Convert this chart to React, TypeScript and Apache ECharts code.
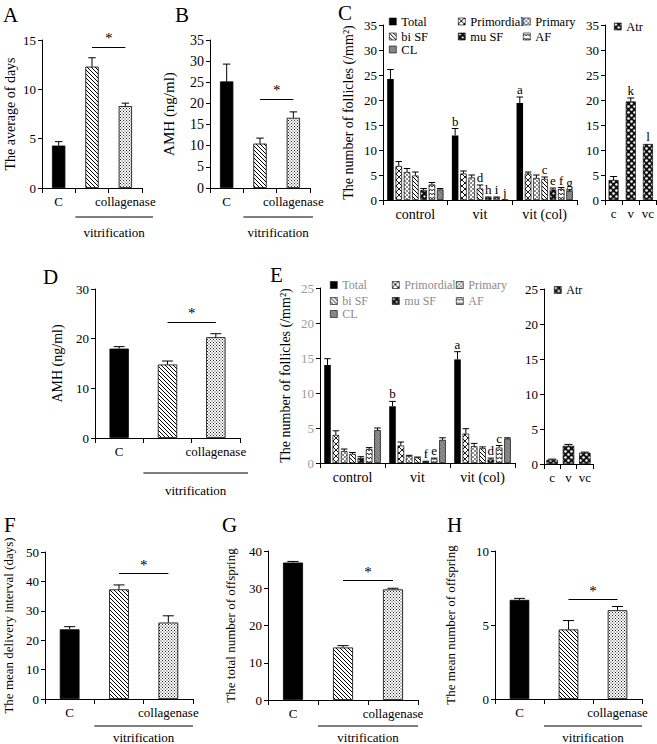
import React, { useEffect, useRef } from 'react';
import * as echarts from 'echarts';

// ---------------- data ----------------
const TREATMENT_LABELS = ['C', '', 'collagenase'];
const BRACKET_LABEL = 'vitrification';

const A_VALUES = [4.3, 12.3, 8.3];
const A_ERRORS = [0.4, 0.9, 0.3];
const A_SIG = 14.3;

const B_VALUES = [25.2, 10.5, 16.6];
const B_ERRORS = [4.1, 1.3, 1.4];
const B_SIG = 21.1;

const D_VALUES = [18.0, 14.8, 20.3];
const D_ERRORS = [0.4, 0.7, 0.7];
const D_SIG = 23.4;

const F_VALUES = [23.7, 37.3, 26.0];
const F_ERRORS = [0.9, 1.5, 2.3];
const F_SIG = 42.8;

const G_VALUES = [36.9, 14.1, 29.7];
const G_ERRORS = [0.3, 0.5, 0.3];
const G_SIG = 32.2;

const H_VALUES = [6.7, 4.7, 6.0];
const H_ERRORS = [0.1, 0.6, 0.25];
const H_SIG = 6.75;

const FOLLICLE_GROUPS = ['control', 'vit', 'vit (col)'];
const FOLLICLE_TYPES = ['Total', 'Primordial', 'Primary', 'bi SF', 'mu SF', 'AF', 'CL'];
const ATR_GROUPS = ['c', 'v', 'vc'];
const ATR_NAME = 'Atr';

// Panel C (values per follicle type across control / vit / vit (col))
const C_TOTAL = [24.2, 12.9, 19.4];
const C_TOTAL_ERR = [1.9, 1.4, 1.2];
const C_PRIMORDIAL = [6.8, 5.3, 5.3];
const C_PRIMORDIAL_ERR = [0.9, 0.5, 0.3];
const C_PRIMARY = [5.6, 4.5, 4.4];
const C_PRIMARY_ERR = [0.7, 0.5, 0.6];
const C_BISF = [4.9, 2.3, 4.2];
const C_BISF_ERR = [0.7, 0.7, 0.4];
const C_MUSF = [2.0, 0.5, 2.1];
const C_MUSF_ERR = [0.3, 0.1, 0.3];
const C_AF = [3.1, 0.5, 2.2];
const C_AF_ERR = [0.4, 0.1, 0.3];
const C_CL = [2.1, 0.05, 1.8];
const C_CL_ERR = [0.2, 0, 0.2];
const C_TOTAL_LETTERS = ['', 'b', 'a'];
const C_BISF_LETTERS = ['', 'd', 'c'];
const C_MUSF_LETTERS = ['', 'h', 'e'];
const C_AF_LETTERS = ['', 'i', 'f'];
const C_CL_LETTERS = ['', 'j', 'g'];
const C_ATR = [4.0, 19.7, 11.2];
const C_ATR_ERR = [0.7, 0.7, 0];
const C_ATR_LETTERS = ['', 'k', 'l'];

// Panel E
const E_TOTAL = [14.0, 8.1, 14.8];
const E_TOTAL_ERR = [0.9, 0.7, 1.1];
const E_PRIMORDIAL = [4.0, 2.5, 4.2];
const E_PRIMORDIAL_ERR = [0.6, 0.5, 0.7];
const E_PRIMARY = [1.7, 1.0, 2.4];
const E_PRIMARY_ERR = [0.3, 0.1, 0.4];
const E_BISF = [1.3, 0.8, 2.1];
const E_BISF_ERR = [0.2, 0.05, 0.2];
const E_MUSF = [0.7, 0.2, 0.5];
const E_MUSF_ERR = [0.2, 0.05, 0.2];
const E_AF = [2.0, 0.6, 2.2];
const E_AF_ERR = [0.2, 0.1, 0.3];
const E_CL = [4.7, 3.3, 3.5];
const E_CL_ERR = [0.3, 0.3, 0.1];
const E_TOTAL_LETTERS = ['', 'b', 'a'];
const E_MUSF_LETTERS = ['', 'f', 'd'];
const E_AF_LETTERS = ['', 'e', 'c'];
const E_ATR = [0.6, 2.6, 1.6];
const E_ATR_ERR = [0.1, 0.2, 0.1];

// ---------------- layout / style ----------------
const SERIF = 'Liberation Serif, Times New Roman, serif';

const GRID = {
  A: { left: 42, top: 40, width: 100, height: 148 },
  B: { left: 210, top: 40, width: 100, height: 148 },
  C: { left: 383, top: 25, width: 194, height: 175 },
  CA: { left: 605, top: 25, width: 52, height: 175 },
  D: { left: 95, top: 289, width: 145, height: 149 },
  E: { left: 320, top: 288, width: 195, height: 175 },
  EA: { left: 544, top: 289, width: 49, height: 175 },
  F: { left: 45, top: 552, width: 148, height: 147 },
  G: { left: 268, top: 551, width: 150, height: 149 },
  H: { left: 495, top: 551, width: 147, height: 148 },
};

function pattern(body: string, w: number, h: number, bg = '#fff') {
  const svg = `<svg xmlns="http://www.w3.org/2000/svg" width="${w}" height="${h}"><rect width="${w}" height="${h}" fill="${bg}"/>${body}</svg>`;
  return {
    image: 'data:image/svg+xml;charset=utf-8,' + encodeURIComponent(svg),
    repeat: 'repeat',
    imageWidth: w,
    imageHeight: h,
  };
}

const PAT = {
  black: '#000',
  hatch: pattern('<path d="M-1,-1L5,5M-1,3L1,5M3,-1L5,1" stroke="#000" stroke-width="1"/>', 4, 4),
  dots: pattern('<rect x="0" y="0" width="1" height="1" fill="#222"/><rect x="1.5" y="1.5" width="1" height="1" fill="#222"/>', 3, 3),
  cross: pattern('<path d="M-1,-1L7,7M7,-1L-1,7" stroke="#000" stroke-width="0.9"/>', 6, 6),
  primary: pattern('<circle cx="1" cy="1" r="0.8" fill="#000"/><circle cx="3" cy="3" r="0.8" fill="#000"/>', 4, 4),
  musf: pattern('<circle cx="1.5" cy="1.5" r="1.1" fill="#fff"/><circle cx="4.5" cy="4.5" r="1.1" fill="#fff"/>', 6, 6, '#111'),
  af: pattern('<path d="M0,3L1.5,1L3,3L4.5,1L6,3" stroke="#000" stroke-width="0.8" fill="none"/>', 6, 4),
  cl: pattern('<path d="M-1,-1L5,5M-1,3L1,5M3,-1L5,1" stroke="#6a6a6a" stroke-width="0.7"/>', 4, 4, '#8c8c8c'),
  atr: pattern('<circle cx="1.5" cy="1.5" r="1.3" fill="#fff"/><circle cx="4.5" cy="4.5" r="1.3" fill="#fff"/>', 6, 6, '#111'),
};

const TREATMENT_FILLS = [PAT.black, PAT.hatch, PAT.dots];
const TYPE_FILLS = [PAT.black, PAT.cross, PAT.primary, PAT.hatch, PAT.musf, PAT.af, PAT.cl];

function barOffset(band: number, n: number, pos: number, catGap: number, barGap: number) {
  const usable = band * (1 - catGap);
  const bw = usable / (n + (n - 1) * barGap);
  const center = -usable / 2 + pos * bw * (1 + barGap) + bw / 2;
  return { center, width: bw };
}

function errorSeries(
  gi: number,
  values: number[],
  errors: number[],
  letters: string[] | null,
  n: number,
  pos: number,
  catGap: number,
  barGap: number,
  capRatio: number,
  letterSize = 13,
) {
  return {
    type: 'custom',
    xAxisIndex: gi,
    yAxisIndex: gi,
    silent: true,
    clip: false,
    z: 5,
    data: values.map((v, i) => [i, v]),
    renderItem: (params: any, api: any) => {
      const i = params.dataIndex;
      const v = api.value(1);
      const e = errors[i] || 0;
      const band = api.size([1, 0])[0];
      const off = barOffset(band, n, pos, catGap, barGap);
      const p0 = api.coord([api.value(0), v]);
      const p1 = api.coord([api.value(0), v + e]);
      const x = p0[0] + off.center;
      const children: any[] = [];
      if (e > 0) {
        const half = Math.max(2, off.width * capRatio);
        children.push({ type: 'line', shape: { x1: x, y1: p0[1], x2: x, y2: p1[1] }, style: { stroke: '#000', lineWidth: 1 } });
        children.push({ type: 'line', shape: { x1: x - half, y1: p1[1], x2: x + half, y2: p1[1] }, style: { stroke: '#000', lineWidth: 1 } });
      }
      const letter = letters ? letters[i] : '';
      if (letter) {
        children.push({
          type: 'text',
          x,
          y: p1[1] - 1,
          style: { text: letter, align: 'center', verticalAlign: 'bottom', fontSize: letterSize, fontFamily: SERIF, fill: '#000' },
        });
      }
      return { type: 'group', children };
    },
  };
}

function xAxis(gi: number, data: string[], fontSize = 13) {
  return {
    type: 'category',
    gridIndex: gi,
    data,
    axisLine: { lineStyle: { color: '#000', width: 1 } },
    axisTick: { show: true, length: 5, lineStyle: { color: '#000' } },
    axisLabel: { color: '#000', fontFamily: SERIF, fontSize, margin: 7, interval: 0 },
    splitLine: { show: false },
  };
}

function yAxis(gi: number, max: number, interval: number, name: string, nameGap: number, nameSize = 13, labelSize = 13, labelColor = '#000') {
  return {
    type: 'value',
    gridIndex: gi,
    min: 0,
    max,
    interval,
    name,
    nameLocation: 'middle',
    nameGap,
    nameRotate: 90,
    nameTextStyle: { color: '#000', fontFamily: SERIF, fontSize: nameSize },
    axisLine: { show: true, lineStyle: { color: '#000', width: 1 } },
    axisTick: { show: true, length: 4, lineStyle: { color: '#000' } },
    axisLabel: { color: labelColor, fontFamily: SERIF, fontSize: labelSize, margin: 6 },
    splitLine: { show: false },
  };
}

function simpleSeries(gi: number, values: number[], errors: number[], sig: number) {
  return [
    {
      type: 'bar',
      name: 'panel' + gi,
      xAxisIndex: gi,
      yAxisIndex: gi,
      barCategoryGap: '60%',
      itemStyle: { borderColor: '#000', borderWidth: 0.8 },
      emphasis: { disabled: true },
      data: values.map((v, i) => ({ value: v, itemStyle: { color: TREATMENT_FILLS[i] } })),
      markLine: {
        silent: true,
        symbol: ['none', 'none'],
        lineStyle: { color: '#000', width: 1.2, type: 'solid' },
        label: { show: true, formatter: '*', position: 'insideMiddleTop', color: '#000', fontSize: 15, fontFamily: SERIF, distance: 1 },
        emphasis: { disabled: true },
        data: [[{ coord: [1, sig] }, { coord: [2, sig] }]],
      },
    },
    errorSeries(gi, values, errors, null, 1, 0, 0.6, 0, 0.28),
  ];
}

const GROUP_CAT_GAP = 0.13;
const GROUP_BAR_GAP = 0.27;

function groupedSeries(gi: number, values: number[][], errors: number[][], letters: (string[] | null)[]) {
  const out: any[] = [];
  values.forEach((vals, k) => {
    out.push({
      type: 'bar',
      name: FOLLICLE_TYPES[k],
      xAxisIndex: gi,
      yAxisIndex: gi,
      barCategoryGap: GROUP_CAT_GAP * 100 + '%',
      barGap: GROUP_BAR_GAP * 100 + '%',
      itemStyle: { color: TYPE_FILLS[k], borderColor: '#000', borderWidth: k === 0 ? 0 : 0.7 },
      emphasis: { disabled: true },
      data: vals,
    });
  });
  values.forEach((vals, k) => {
    out.push(errorSeries(gi, vals, errors[k], letters[k], values.length, k, GROUP_CAT_GAP, GROUP_BAR_GAP, 0.5));
  });
  return out;
}

function atrSeries(gi: number, values: number[], errors: number[], letters: string[] | null, gap: number) {
  return [
    {
      type: 'bar',
      name: ATR_NAME,
      xAxisIndex: gi,
      yAxisIndex: gi,
      barCategoryGap: gap * 100 + '%',
      itemStyle: { color: PAT.atr, borderColor: '#000', borderWidth: 0.7 },
      emphasis: { disabled: true },
      data: values,
    },
    errorSeries(gi, values, errors, letters, 1, 0, gap, 0, 0.35),
  ];
}

function legendItem(name: string, left: number, top: number, color: string, size: number) {
  return {
    data: [name],
    left,
    top,
    padding: 0,
    itemWidth: 7,
    itemHeight: 7,
    itemGap: 0,
    icon: 'rect',
    selectedMode: false,
    textStyle: { color, fontFamily: SERIF, fontSize: size },
    itemStyle: { borderColor: '#000', borderWidth: 0.6 },
  };
}

const LEGEND_C = { cols: [389, 458, 523], rows: [15, 30, 43], atr: [614, 20], size: 12.5 };
const LEGEND_E = { cols: [330, 392, 456], rows: [279, 295, 308], atr: [554, 284], size: 12 };

function legendBlock(cfg: any, color: string) {
  return FOLLICLE_TYPES.map((name, k) =>
    legendItem(name, cfg.cols[k % 3], cfg.rows[Math.floor(k / 3)], color, cfg.size),
  ).concat([legendItem(ATR_NAME, cfg.atr[0], cfg.atr[1], '#000', cfg.size)]);
}

const PANEL_LETTERS: [string, number, number][] = [
  ['A', 3, 4], ['B', 175, 4], ['C', 338, 2], ['D', 43, 266],
  ['E', 270, 264], ['F', 4, 514], ['G', 222, 514], ['H', 447, 514],
];

const BRACKETS: [keyof typeof GRID, number, number, number][] = [
  // panel, line offset below axis, text offset below axis, extra length to the right
  ['A', 29, 44, 11], ['B', 29, 44, 3], ['D', 35, 52, 8],
  ['F', 27, 38, 0], ['G', 26, 37, 0], ['H', 27, 38, 0],
];

function buildGraphic() {
  const g: any[] = [];
  PANEL_LETTERS.forEach(([t, x, y]) => {
    g.push({ type: 'text', x, y, style: { text: t, fontSize: 21, fontFamily: SERIF, fill: '#000', align: 'left', verticalAlign: 'top' } });
  });
  BRACKETS.forEach(([p, ld, td, extra]) => {
    const gr = GRID[p];
    const x1 = gr.left + gr.width / 3;
    const x2 = gr.left + gr.width + extra;
    const yAxisLine = gr.top + gr.height;
    g.push({ type: 'line', shape: { x1, y1: yAxisLine + ld, x2, y2: yAxisLine + ld }, style: { stroke: '#000', lineWidth: 1 } });
    g.push({
      type: 'text',
      x: (x1 + x2) / 2,
      y: yAxisLine + td,
      style: { text: BRACKET_LABEL, fontSize: 13, fontFamily: SERIF, fill: '#000', align: 'center', verticalAlign: 'middle' },
    });
  });
  return g;
}

function buildOption() {
  const grids = [GRID.A, GRID.B, GRID.C, GRID.CA, GRID.D, GRID.E, GRID.EA, GRID.F, GRID.G, GRID.H].map((g) => ({ ...g, containLabel: false }));

  const xAxes = [
    xAxis(0, TREATMENT_LABELS),
    xAxis(1, TREATMENT_LABELS),
    xAxis(2, FOLLICLE_GROUPS, 14),
    xAxis(3, ATR_GROUPS),
    xAxis(4, TREATMENT_LABELS),
    xAxis(5, FOLLICLE_GROUPS, 14),
    xAxis(6, ATR_GROUPS),
    xAxis(7, TREATMENT_LABELS),
    xAxis(8, TREATMENT_LABELS),
    xAxis(9, TREATMENT_LABELS),
  ];

  const yAxes = [
    yAxis(0, 15, 5, 'The average of days', 25, 14),
    yAxis(1, 35, 5, 'AMH (ng/ml)', 34, 15, 14),
    yAxis(2, 35, 5, 'The number of follicles (/mm²)', 28, 14),
    yAxis(3, 35, 5, '', 0),
    yAxis(4, 30, 10, 'AMH (ng/ml)', 31, 14),
    yAxis(5, 25, 5, 'The number of follicles (/mm²)', 28, 14, 13, '#9a9a9a'),
    yAxis(6, 25, 5, '', 0),
    yAxis(7, 50, 10, 'The mean delivery interval (days)', 30, 13),
    yAxis(8, 40, 10, 'The total number of offspring', 31, 13),
    yAxis(9, 10, 5, 'The mean number of offspring', 38, 13),
  ];

  const series: any[] = [
    ...simpleSeries(0, A_VALUES, A_ERRORS, A_SIG),
    ...simpleSeries(1, B_VALUES, B_ERRORS, B_SIG),
    ...groupedSeries(
      2,
      [C_TOTAL, C_PRIMORDIAL, C_PRIMARY, C_BISF, C_MUSF, C_AF, C_CL],
      [C_TOTAL_ERR, C_PRIMORDIAL_ERR, C_PRIMARY_ERR, C_BISF_ERR, C_MUSF_ERR, C_AF_ERR, C_CL_ERR],
      [C_TOTAL_LETTERS, null, null, C_BISF_LETTERS, C_MUSF_LETTERS, C_AF_LETTERS, C_CL_LETTERS],
    ),
    ...atrSeries(3, C_ATR, C_ATR_ERR, C_ATR_LETTERS, 0.42),
    ...simpleSeries(4, D_VALUES, D_ERRORS, D_SIG),
    ...groupedSeries(
      5,
      [E_TOTAL, E_PRIMORDIAL, E_PRIMARY, E_BISF, E_MUSF, E_AF, E_CL],
      [E_TOTAL_ERR, E_PRIMORDIAL_ERR, E_PRIMARY_ERR, E_BISF_ERR, E_MUSF_ERR, E_AF_ERR, E_CL_ERR],
      [E_TOTAL_LETTERS, null, null, null, E_MUSF_LETTERS, E_AF_LETTERS, null],
    ),
    ...atrSeries(6, E_ATR, E_ATR_ERR, null, 0.3),
    ...simpleSeries(7, F_VALUES, F_ERRORS, F_SIG),
    ...simpleSeries(8, G_VALUES, G_ERRORS, G_SIG),
    ...simpleSeries(9, H_VALUES, H_ERRORS, H_SIG),
  ];

  return {
    animation: false,
    backgroundColor: '#fff',
    textStyle: { fontFamily: SERIF },
    grid: grids,
    xAxis: xAxes,
    yAxis: yAxes,
    legend: [...legendBlock(LEGEND_C, '#000'), ...legendBlock(LEGEND_E, '#8a8a8a')],
    graphic: buildGraphic(),
    series,
  };
}

export default function App() {
  const ref = useRef<HTMLDivElement>(null);
  useEffect(() => {
    if (!ref.current) return;
    const chart = echarts.init(ref.current, undefined, { renderer: 'svg' });
    chart.setOption(buildOption() as any);
    return () => chart.dispose();
  }, []);
  return (
    <div
      ref={ref}
      style={{ position: 'fixed', left: 0, top: 0, width: 657, height: 744, background: '#fff' }}
    />
  );
}
